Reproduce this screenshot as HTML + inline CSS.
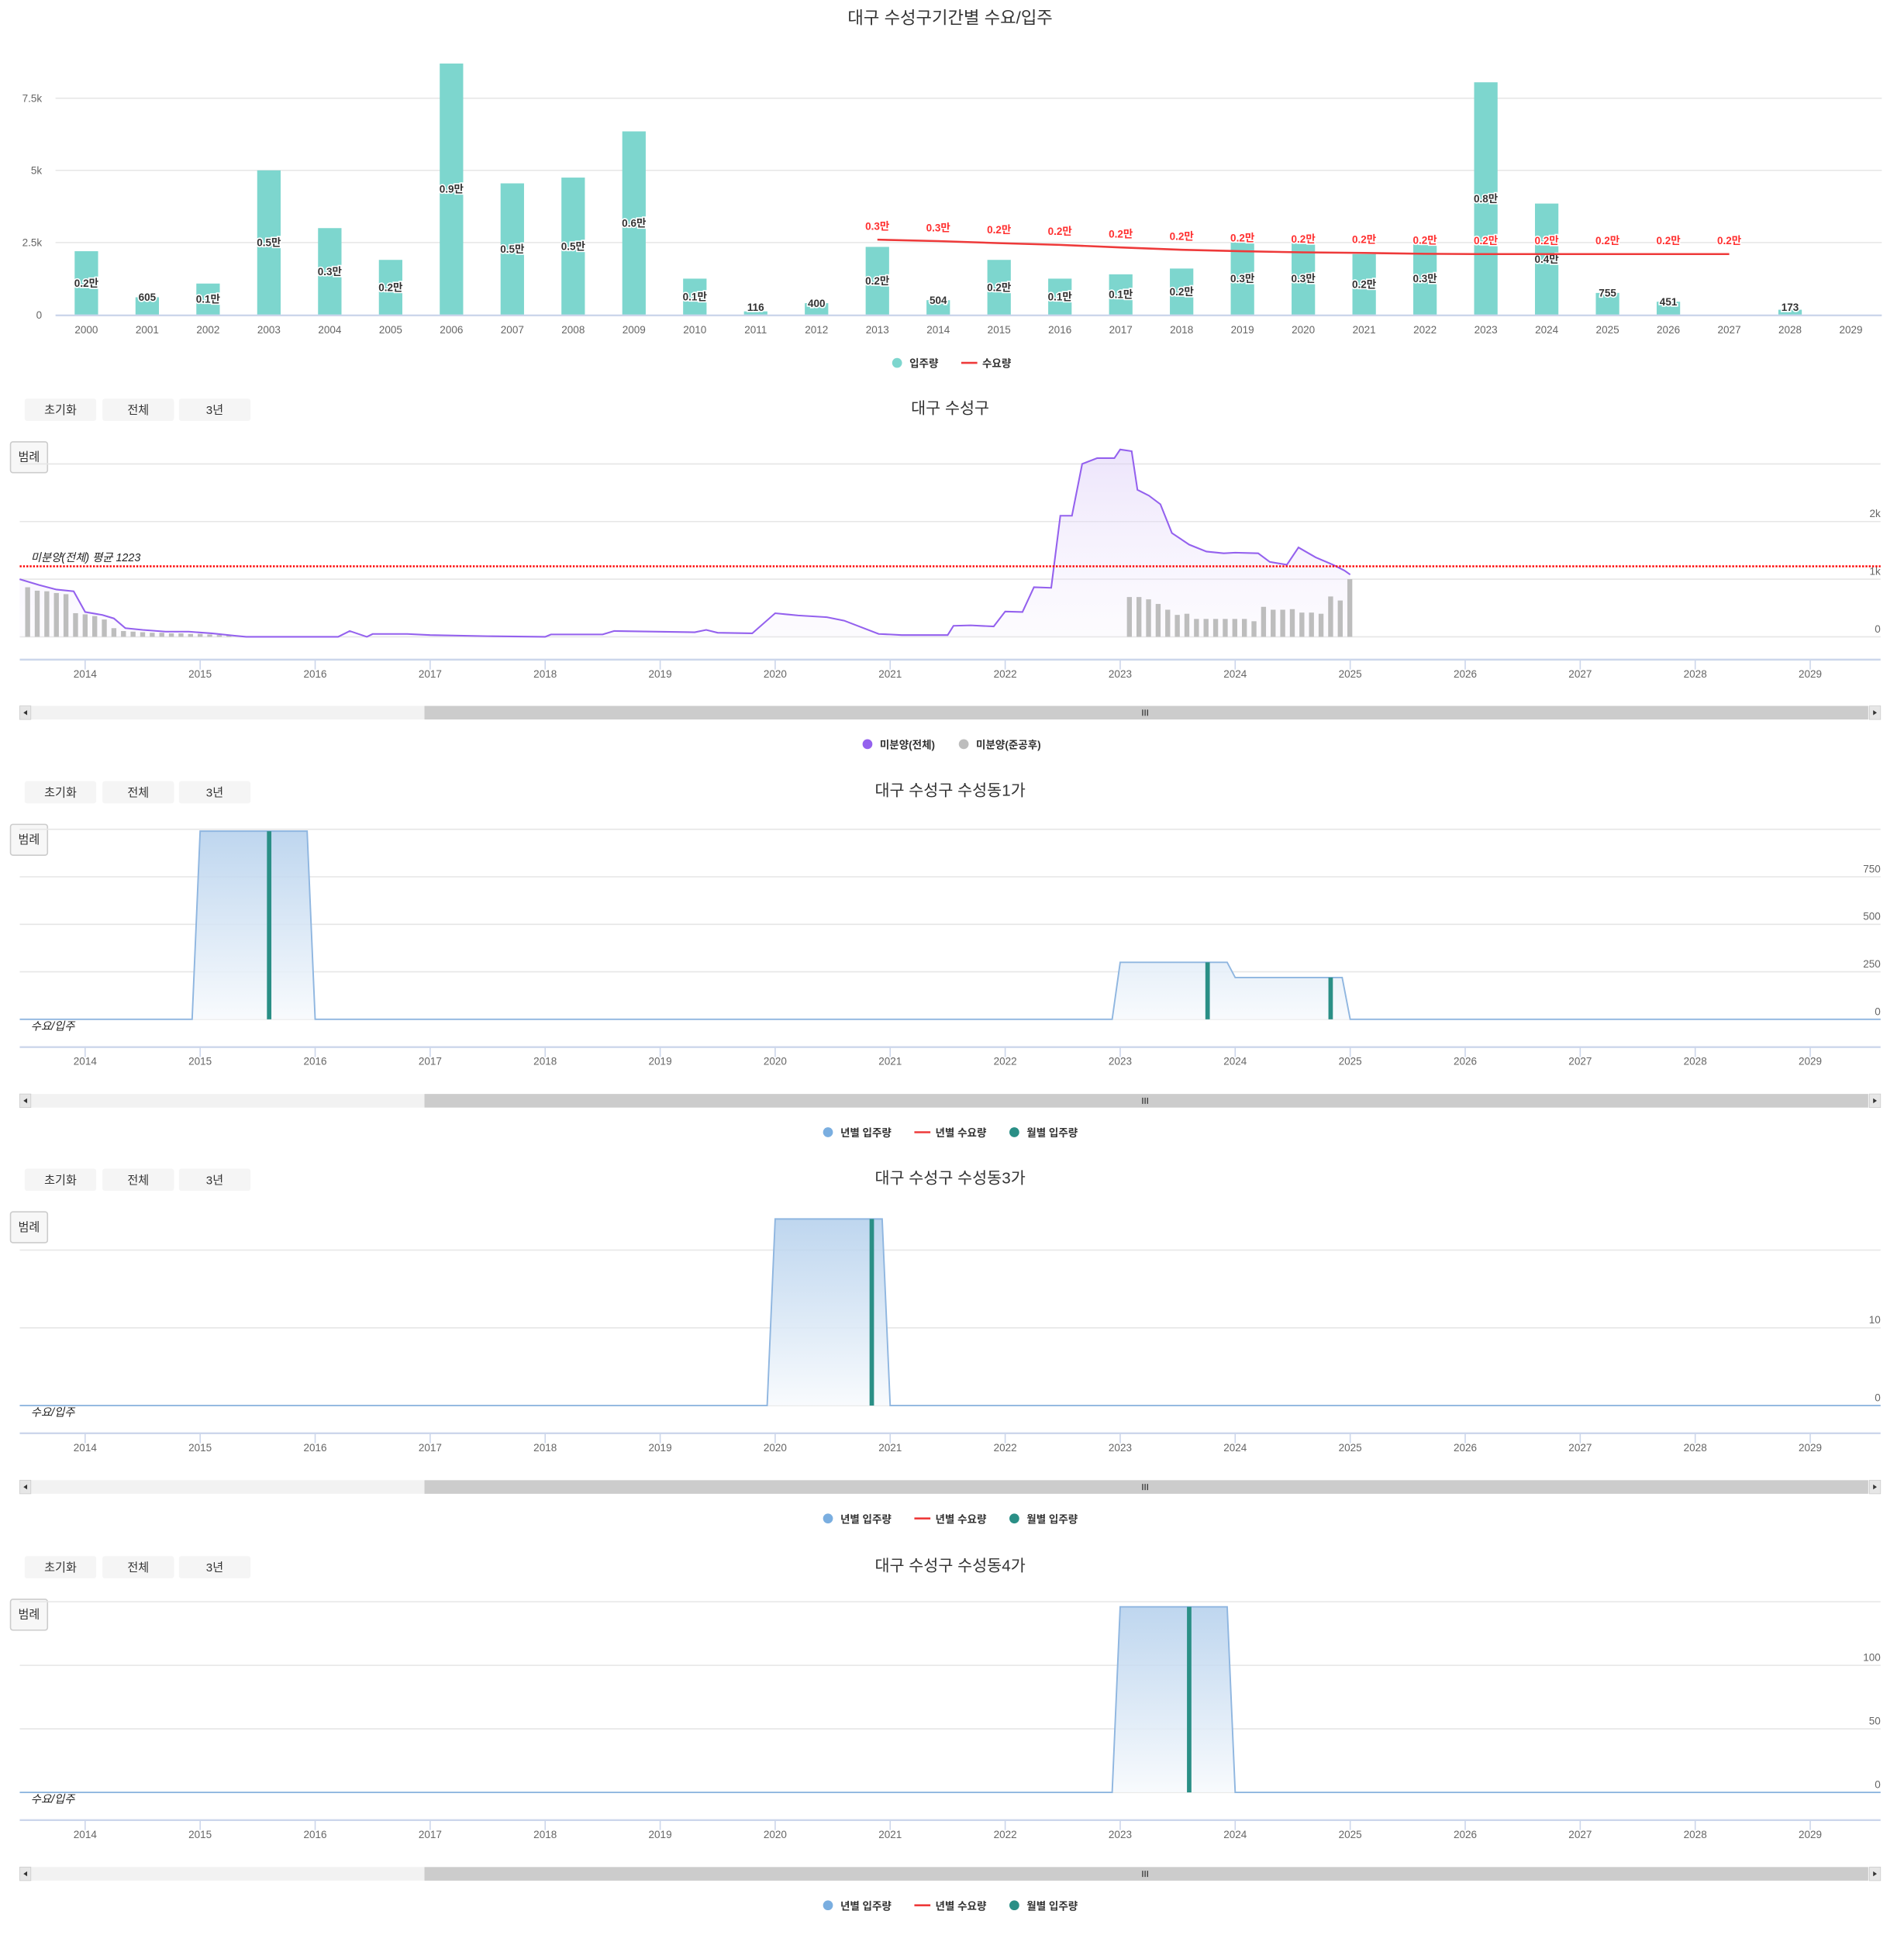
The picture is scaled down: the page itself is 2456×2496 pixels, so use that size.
<!DOCTYPE html>
<html><head><meta charset="utf-8">
<style>
html,body{margin:0;padding:0;background:#fff;}
svg{display:block;font-family:"Liberation Sans","Noto Sans CJK KR",sans-serif;}
.lbl{font-weight:bold;font-size:8.5px;paint-order:stroke;stroke:#fff;stroke-width:2px;}
</style></head>
<body>
<svg id="root" xmlns="http://www.w3.org/2000/svg" width="2456" height="2496" viewBox="0 0 1543 1568">
<defs>
<linearGradient id="gPurple" x1="0" y1="0" x2="0" y2="1"><stop offset="0" stop-color="#d9c8f7" stop-opacity="0.8"/><stop offset="1" stop-color="#f4effd" stop-opacity="0.4"/></linearGradient>
<linearGradient id="gBlue" x1="0" y1="0" x2="0" y2="1"><stop offset="0" stop-color="#b3cfec"/><stop offset="1" stop-color="#f7fafd"/></linearGradient>
</defs>
</svg>
<script>
// ---------- chart 1 data ----------
const barYears=[2000,2001,2002,2003,2004,2005,2006,2007,2008,2009,2010,2011,2012,2013,2014,2015,2016,2017,2018,2019,2020,2021,2022,2023,2024,2025,2026,2027,2028,2029];
const moveIn=[2200,605,1080,5000,3000,1900,8700,4550,4750,6350,1250,116,400,2350,504,1900,1250,1400,1600,2500,2500,2100,2500,8050,3850,755,451,0,173,0];
const demandYears=[2013,2014,2015,2016,2017,2018,2019,2020,2021,2022,2023,2024,2025,2026,2027];
const demand=[2600,2550,2480,2420,2330,2250,2200,2160,2140,2110,2100,2100,2100,2100,2100];
const yTicks1=[0,2500,5000,7500];
const yTickLabels1=['0','2.5k','5k','7.5k'];
// ---------- chart 2 data ----------
const unsoldT=[2013.43,2013.6,2013.75,2013.9,2014.0,2014.15,2014.25,2014.35,2014.5,2014.7,2014.9,2015.1,2015.3,2015.4,2016.2,2016.3,2016.45,2016.5,2016.8,2017.0,2017.5,2018.0,2018.05,2018.5,2018.6,2019.3,2019.4,2019.5,2019.8,2020.0,2020.2,2020.45,2020.6,2020.9,2021.0,2021.1,2021.5,2021.55,2021.7,2021.9,2022.0,2022.15,2022.25,2022.4,2022.48,2022.58,2022.67,2022.8,2022.95,2023.0,2023.1,2023.15,2023.25,2023.35,2023.45,2023.6,2023.75,2023.9,2024.0,2024.2,2024.3,2024.45,2024.55,2024.7,2024.85,2024.95,2025.0];
const unsoldV=[1000,900,820,790,430,380,320,150,120,90,90,60,20,0,0,100,0,50,50,30,10,0,40,40,100,80,120,70,60,410,370,340,280,50,40,30,30,190,200,180,440,430,860,850,2100,2100,3000,3100,3100,3250,3220,2550,2450,2300,1800,1600,1480,1450,1460,1450,1300,1250,1550,1380,1250,1150,1080];
const doneStart1=2013.5;
const doneV1=[860,800,790,760,740,410,390,360,300,150,100,90,80,70,70,60,60,50,50,40,30,20];
const doneStart2=2023.08;
const doneV2=[690,690,650,570,470,380,400,310,310,310,310,310,310,270,520,470,470,480,420,420,400,700,630,1000];
const unsoldAvg=1223;
const yTicks2=[0,1000,2000,3000];
const yTickLabels2=['0','1k','2k',''];
const axisYears=[2014,2015,2016,2017,2018,2019,2020,2021,2022,2023,2024,2025,2026,2027,2028,2029];
// ---------- chart 3/4/5 data ----------
const dongYears=[2013,2014,2015,2016,2017,2018,2019,2020,2021,2022,2023,2024,2025,2026,2027,2028,2029];
const dong1Yearly=[0,0,990,0,0,0,0,0,0,0,300,220,0,0,0,0,0];
const dong1MonthT=[2015.6,2023.76,2024.83];
const dong1MonthV=[990,300,220];
const dong3Yearly=[0,0,0,0,0,0,0,24,0,0,0,0,0,0,0,0,0];
const dong3MonthT=[2020.84];
const dong3MonthV=[24];
const dong4Yearly=[0,0,0,0,0,0,0,0,0,0,146,0,0,0,0,0,0];
const dong4MonthT=[2023.6];
const dong4MonthV=[146];

const NS='http://www.w3.org/2000/svg';
const root=document.getElementById('root');
function mk(tag,attrs,parent,text){const e=document.createElementNS(NS,tag);for(const k in attrs)e.setAttribute(k,attrs[k]);if(text!==undefined)e.textContent=text;(parent||root).appendChild(e);return e;}

// ===== Chart 1 =====
const g1=mk('g',{});


const x1=y=>70+(y-2000)*49.31;
const y1=v=>255-v/2500*58.5;
let t=mk('text',{x:770,y:19,'text-anchor':'middle','font-size':14,fill:'#333'},g1,'대구 수성구기간별 수요/입주');


yTicks1.forEach((v,i)=>{
  if(v>0){const l=mk('line',{x1:45,x2:1525,y1:y1(v),y2:y1(v),stroke:'#e6e6e6','stroke-width':1},g1);
  
  }
  const tx=mk('text',{x:34,y:y1(v)+3,'text-anchor':'end','font-size':8.5,fill:'#666'},g1,yTickLabels1[i]);
  
  
});
barYears.forEach((yr,i)=>{
  const v=moveIn[i];
  if(v>0){const r=mk('rect',{x:x1(yr)-9.5,y:y1(v),width:19,height:255-y1(v),fill:'#7dd6ce'},g1);
  
  
  const lab=v>=1000?(v/10000).toFixed(1)+'만':String(v);
  const ly=v>=1000?(y1(v)+255)/2+3:y1(v)+3;
  const tl=mk('text',{x:x1(yr),y:Math.min(ly,252),'text-anchor':'middle',fill:'#333',class:'lbl'},g1,lab);
  
  }
  const tx=mk('text',{x:x1(yr),y:270,'text-anchor':'middle','font-size':8.5,fill:'#666'},g1,yr);
  
  
});
let ax=mk('line',{x1:45,x2:1525,y1:255.5,y2:255.5,stroke:'#ccd6eb','stroke-width':1.5},g1);


const dpath=demandYears.map((yr,i)=>(i?'L':'M')+x1(yr)+','+y1(demand[i])).join(' ');
let dl=mk('path',{d:dpath,fill:'none',stroke:'#ee3a3a','stroke-width':1.6},g1);


demandYears.forEach((yr,i)=>{
  const tl=mk('text',{x:x1(yr),y:y1(demand[i])-8,'text-anchor':'middle',fill:'#ff3030',class:'lbl'},g1,(demand[i]/10000).toFixed(1)+'만');
  
  
});
function legendCircle(g,x,y,color,text,name){
  const c=mk('circle',{cx:x,cy:y,r:4,fill:color},g);
  
  
  const tx=mk('text',{x:x+10,y:y+3.5,'font-size':8.5,'font-weight':'bold',fill:'#333'},g,text);
  
  
}
function legendLine(g,x,y,color,text,name){
  const l=mk('line',{x1:x,x2:x+13,y1:y,y2:y,stroke:color,'stroke-width':1.6},g);
  
  
  const tx=mk('text',{x:x+17,y:y+3.5,'font-size':8.5,'font-weight':'bold',fill:'#333'},g,text);
  
  
}
legendCircle(g1,727,294,'#7dd6ce','입주량','legend-movein');
legendLine(g1,779,294,'#ee3a3a','수요량','legend-demand');

// ===== Timeline helpers =====
const xT=tt=>69+(tt-2014)*93.2;
function frame(g,base,title){
  // base = buttons center y
  [['초기화',20],['전체',83],['3년',145]].forEach(([s,x])=>{
    const r=mk('rect',{x:x,y:base-9,width:58,height:18,fill:'#f5f5f5',rx:2},g);
    
    
    const tx=mk('text',{x:x+29,y:base+3.5,'text-anchor':'middle','font-size':9.5,fill:'#333'},g,s);
    
    
  });
  const tt=mk('text',{x:770,y:base+3,'text-anchor':'middle','font-size':13,fill:'#333'},g,title);
  
  
  const lb=mk('rect',{x:8.5,y:base+26,width:30,height:25,fill:'#f7f7f7',stroke:'#ccc',rx:2},g);
  
  
  const lt=mk('text',{x:23.5,y:base+41.5,'text-anchor':'middle','font-size':9.5,fill:'#333'},g,'범례');
  
  
}
function grid(g,ticks,labels,yf){
  ticks.forEach((v,i)=>{
    const l=mk('line',{x1:16,x2:1524,y1:yf(v),y2:yf(v),stroke:'#e6e6e6','stroke-width':1},g);
    
    
    if(labels[i]){const tx=mk('text',{x:1524,y:yf(v)-3.5,'text-anchor':'end','font-size':8.5,fill:'#666'},g,labels[i]);
    
    }
  });
}
function xaxis(g,axY,scrollY,legY){
  const a=mk('line',{x1:16,x2:1524,y1:axY,y2:axY,stroke:'#ccd6eb','stroke-width':1.5},g);
  
  
  axisYears.forEach(yr=>{
    const tk=mk('line',{x1:xT(yr),x2:xT(yr),y1:axY,y2:axY+8,stroke:'#ccd6eb'},g);
    
    
    const tx=mk('text',{x:xT(yr),y:axY+14.5,'text-anchor':'middle','font-size':8.5,fill:'#666'},g,yr);
    
    
  });
  const tr=mk('rect',{x:16,y:scrollY,width:1508,height:11,fill:'#f2f2f2'},g);
  
  
  const th=mk('rect',{x:344,y:scrollY,width:1170,height:11,fill:'#cccccc'},g);
  
  
  const la=mk('rect',{x:16,y:scrollY,width:9,height:11,fill:'#e6e6e6',stroke:'#ccc','stroke-width':0.5},g);
  
  
  mk('path',{d:`M22,${scrollY+3.5} L19,${scrollY+5.5} L22,${scrollY+7.5}Z`,fill:'#333'},g);
  const ra=mk('rect',{x:1515,y:scrollY,width:9,height:11,fill:'#e6e6e6',stroke:'#ccc','stroke-width':0.5},g);
  
  
  mk('path',{d:`M1518,${scrollY+3.5} L1521,${scrollY+5.5} L1518,${scrollY+7.5}Z`,fill:'#333'},g);
  [-2,0,2].forEach(d=>mk('line',{x1:928+d,x2:928+d,y1:scrollY+3,y2:scrollY+8,stroke:'#333','stroke-width':0.8},g));
}

// ===== Chart 2 =====
const g2=mk('g',{});


frame(g2,332,'대구 수성구');
const y2=v=>516-v/1000*46.7;
grid(g2,yTicks2,yTickLabels2,y2);
function doneBars(start,vals){
  vals.forEach((v,i)=>{
    const cx=xT(start+i/12);
    const r=mk('rect',{x:cx-2,y:y2(v),width:4,height:516-y2(v),fill:'#bdbdbd'},g2);
    
    
  });
}
const pts=unsoldT.map((tt,i)=>xT(tt).toFixed(1)+','+y2(unsoldV[i]).toFixed(1));
let area=mk('path',{d:'M'+pts.join(' L')+` L${xT(unsoldT[unsoldT.length-1])},516 L${xT(unsoldT[0])},516Z`,fill:'url(#gPurple)',opacity:0.6},g2);


doneBars(doneStart1,doneV1);
doneBars(doneStart2,doneV2);
let pl=mk('path',{d:'M'+pts.join(' L'),fill:'none',stroke:'#9461ee','stroke-width':1.3},g2);


let av=mk('line',{x1:16,x2:1524,y1:y2(unsoldAvg),y2:y2(unsoldAvg),stroke:'#ff0000','stroke-width':1.6,'stroke-dasharray':'1.5,1.2'},g2);


let avt=mk('text',{x:25,y:y2(unsoldAvg)-4,'font-size':9,'font-style':'italic',fill:'#222'},g2,'미분양(전체) 평균 '+unsoldAvg);


xaxis(g2,534.5,572,603);
legendCircle(g2,703,603,'#9461ee','미분양(전체)','legend-unsold-total');
legendCircle(g2,781,603,'#bdbdbd','미분양(준공후)','legend-unsold-completed');

// ===== Dong charts =====
function dongChart(name,base,title,yZero,pxPerUnit,ticks,tickLabels,yearly,mT,mV){
  const g=mk('g',{});
  
  
  frame(g,base,title);
  const yf=v=>yZero-v*pxPerUnit;
  grid(g,ticks,tickLabels,yf);
  const p=[];
  dongYears.forEach((yr,i)=>{p.push([xT(yr),yf(yearly[i])]);p.push([xT(yr+0.93),yf(yearly[i])]);});
  const vis=p.map(([x,y])=>[Math.max(16,Math.min(1524,x)),y]);
  const s=vis.map(([x,y])=>x.toFixed(1)+','+y.toFixed(1)).join(' L');
  const a=mk('path',{d:'M'+s+` L1524,${yZero} L16,${yZero}Z`,fill:'url(#gBlue)',opacity:0.85},g);
  
  
  const l=mk('path',{d:'M'+s,fill:'none',stroke:'#8fb6e0','stroke-width':1.2},g);
  
  
  mT.forEach((tt,i)=>{
    const r=mk('rect',{x:xT(tt)-1.8,y:yf(mV[i]),width:3.6,height:yZero-yf(mV[i]),fill:'#2a8f86'},g);
    
    
  });
  const lt=mk('text',{x:25,y:yZero+8.5,'font-size':9,'font-style':'italic',fill:'#222'},g,'수요/입주');
  
  
  const axY=yZero+22.5;
  xaxis(g,axY,axY+38,axY+69);
  legendCircle(g,671,axY+69,'#7aaee0','년별 입주량','legend-yearly-movein');
  legendLine(g,741,axY+69,'#ee3a3a','년별 수요량','legend-yearly-demand');
  legendCircle(g,822,axY+69,'#2a8f86','월별 입주량','legend-monthly-movein');
}
dongChart('suseong-dong1ga-chart',642,'대구 수성구 수성동1가',826,38.5/250,[0,250,500,750,1000],['0','250','500','750',''],dong1Yearly,dong1MonthT,dong1MonthV);
dongChart('suseong-dong3ga-chart',956,'대구 수성구 수성동3가',1139,6.3,[0,10,20],['0','10',''],dong3Yearly,dong3MonthT,dong3MonthV);
dongChart('suseong-dong4ga-chart',1270,'대구 수성구 수성동4가',1452.5,51.5/50,[0,50,100,150],['0','50','100',''],dong4Yearly,dong4MonthT,dong4MonthV);
</script>
</body></html>
